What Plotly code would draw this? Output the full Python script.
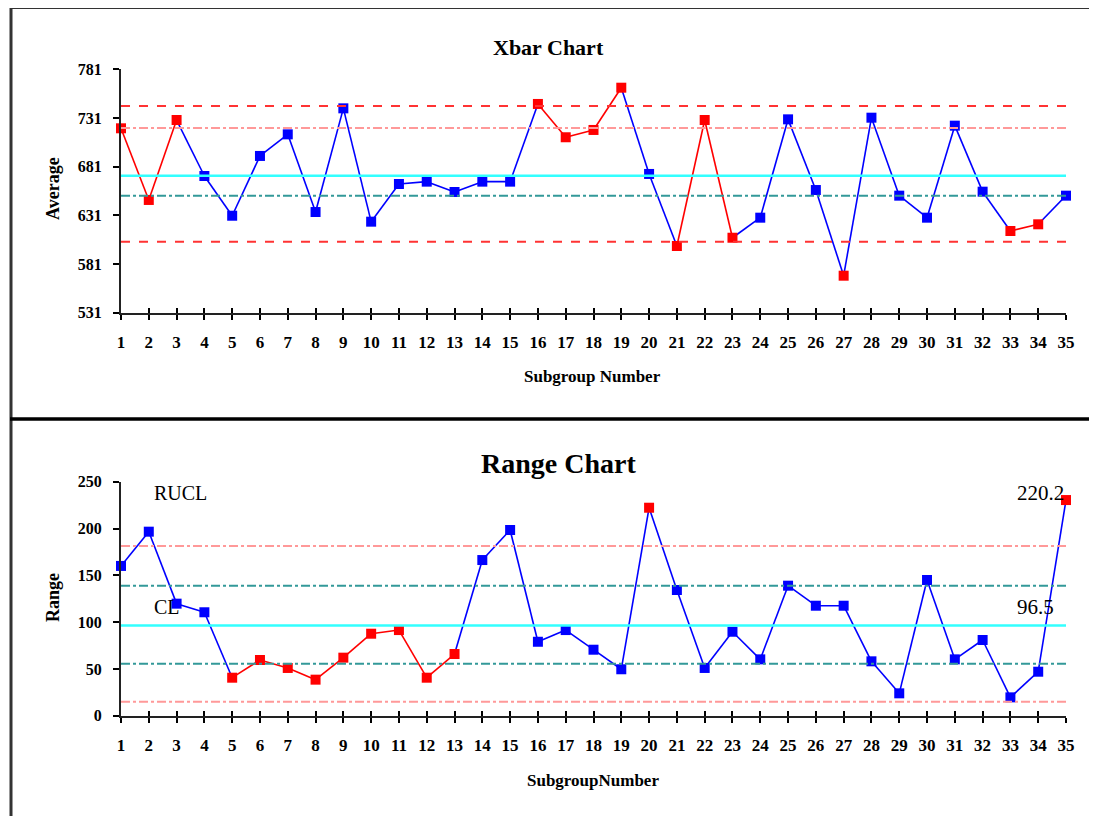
import plotly.graph_objects as go

# ---------------- data ----------------
subgroups = list(range(1, 36))

xbar_values = [720.4, 646.8, 728.9, 671.4, 630.6, 692.0, 714.2, 634.4, 740.9, 624.5,
               663.2, 665.6, 655.0, 665.6, 665.6, 745.4, 711.2, 718.7, 762.1, 673.5,
               599.5, 728.9, 608.0, 628.6, 729.6, 657.0, 569.0, 731.3, 651.2, 628.6,
               723.1, 655.3, 614.9, 621.8, 651.2]
xbar_flags = [1, 1, 1, 0, 0, 0, 0, 0, 0, 0,
              0, 0, 0, 0, 0, 1, 1, 1, 1, 0,
              1, 1, 1, 0, 0, 0, 1, 0, 0, 0,
              0, 0, 1, 1, 0]

range_values = [160.0, 196.6, 119.7, 110.5, 40.6, 59.5, 51.0, 38.5, 62.0, 87.6,
                91.5, 40.6, 65.9, 166.3, 198.4, 79.0, 91.5, 70.5, 49.6, 222.2,
                134.3, 51.0, 89.7, 60.2, 138.9, 117.5, 117.5, 58.1, 23.9, 145.0,
                60.2, 80.9, 19.6, 47.0, 230.4]
range_flags = [0, 0, 0, 0, 1, 1, 1, 1, 1, 1,
               1, 1, 1, 0, 0, 0, 0, 0, 0, 1,
               0, 0, 0, 0, 0, 0, 0, 0, 0, 0,
               0, 0, 0, 0, 1]

xbar_ticks = [531, 581, 631, 681, 731, 781]
range_ticks = [0, 50, 100, 150, 200, 250]

# control / zone lines
xbar_ucl, xbar_zone_hi, xbar_cl, xbar_zone_lo, xbar_lcl = 743.3, 720.7, 671.7, 651.2, 603.9
r_ucl, r_zone_hi, r_cl, r_zone_lo, r_lcl = 181.3, 138.9, 96.5, 55.6, 15.0
r_ucl_label, r_cl_label = "220.2", "96.5"

# ---------------- layout helpers ----------------
W, H = 1097, 816
OFF = 8  # page body margin compensation
def px(x):
    return (x - OFF) / W
def py(y):
    return 1 - (y - OFF) / H

BLUE = "#0000ff"
RED = "#ff0000"
SERIF = "Liberation Serif"

fig = go.Figure()

def segments(x, y, flags, want_red):
    xs, ys = [], []
    for i in range(len(x) - 1):
        red = bool(flags[i] and flags[i + 1])
        if red == want_red:
            xs += [x[i], x[i + 1], None]
            ys += [y[i], y[i + 1], None]
    return xs, ys

def add_limit(xa, ya, val, color, dash, width):
    fig.add_trace(go.Scatter(x=[subgroups[0], subgroups[-1]], y=[val, val], mode="lines",
                             line=dict(color=color, dash=dash, width=width),
                             xaxis=xa, yaxis=ya, hoverinfo="skip", cliponaxis=False))

def add_panel(xa, ya, vals, flags):
    for want_red, col in [(False, BLUE), (True, RED)]:
        sx, sy = segments(subgroups, vals, flags, want_red)
        fig.add_trace(go.Scatter(x=sx, y=sy, mode="lines", line=dict(color=col, width=1.6),
                                 xaxis=xa, yaxis=ya, cliponaxis=False, hoverinfo="skip"))
    cols = [RED if f else BLUE for f in flags]
    fig.add_trace(go.Scatter(x=subgroups, y=vals, mode="markers",
                             marker=dict(symbol="square", size=10, color=cols, line=dict(width=0)),
                             xaxis=xa, yaxis=ya, cliponaxis=False))

# top panel limits (on overlay axis x3)
add_limit("x3", "y", xbar_ucl, "#ff3333", "dash", 2)
add_limit("x3", "y", xbar_zone_hi, "#ff9999", "dashdot", 2)
add_limit("x3", "y", xbar_cl, "#33ffff", "solid", 2.5)
add_limit("x3", "y", xbar_zone_lo, "#339999", "dashdot", 2)
add_limit("x3", "y", xbar_lcl, "#ff3333", "dash", 2)
add_panel("x", "y", xbar_values, xbar_flags)

# bottom panel limits (on overlay axis x4)
add_limit("x4", "y2", r_ucl, "#ff9999", "dashdot", 2)
add_limit("x4", "y2", r_zone_hi, "#339999", "dashdot", 2)
add_limit("x4", "y2", r_cl, "#33ffff", "solid", 2.5)
add_limit("x4", "y2", r_zone_lo, "#339999", "dashdot", 2)
add_limit("x4", "y2", r_lcl, "#ff9999", "dashdot", 2)
add_panel("x2", "y2", range_values, range_flags)

xdom = [px(121), px(1066)]
tickfont_x = dict(family=SERIF, size=17, color="black", weight="bold")
tickfont_y = dict(family=SERIF, size=16, color="black", weight="bold")

common_x = dict(domain=xdom, range=[1, 35], tickmode="array", tickvals=subgroups,
                ticktext=[str(s) for s in subgroups], showgrid=False, zeroline=False,
                tickcolor="black", tickwidth=1.5, automargin=False)
xa_main = dict(common_x, showline=True, linecolor="#222", linewidth=2, ticks="outside",
               ticklen=5, tickfont=tickfont_x, ticklabelstandoff=8)
xa_over = dict(common_x, showline=False, ticks="inside", ticklen=5, showticklabels=False)

common_y = dict(showgrid=False, zeroline=False, showline=True, linecolor="#222", linewidth=2,
                ticks="outside", ticklen=6, tickcolor="black", tickwidth=1.5, automargin=False,
                tickfont=tickfont_y, ticklabelstandoff=8, tickmode="array")

fig.update_layout(
    template="none",
    width=W, height=H, margin=dict(l=0, r=0, t=0, b=0, pad=0, autoexpand=False),
    paper_bgcolor="white", plot_bgcolor="white", showlegend=False,
    xaxis=dict(xa_main, anchor="y"),
    xaxis3=dict(xa_over, anchor="y", overlaying="x", side="bottom"),
    xaxis2=dict(xa_main, anchor="y2"),
    xaxis4=dict(xa_over, anchor="y2", overlaying="x2", side="bottom"),
    yaxis=dict(common_y, domain=[py(312.7), py(69.3)], range=[xbar_ticks[0], xbar_ticks[-1]],
               tickvals=xbar_ticks, anchor="x"),
    yaxis2=dict(common_y, domain=[py(715.7), py(481.7)], range=[range_ticks[0], range_ticks[-1]],
                tickvals=range_ticks, anchor="x2"),
)

def ann(text, x, y, size, bold=True, xanchor="center", angle=0):
    fig.add_annotation(text=text, x=px(x), y=py(y), xref="paper", yref="paper",
                       showarrow=False, xanchor=xanchor, yanchor="middle", textangle=angle,
                       font=dict(family=SERIF, size=size, color="black",
                                 weight="bold" if bold else "normal"))

ann("Xbar Chart", 548, 47, 22)
ann("Average", 53, 189, 18, angle=-90)
ann("Subgroup Number", 592, 377, 17)
ann("Range Chart", 558, 463, 28)
ann("Range", 53, 598, 18, angle=-90)
ann("SubgroupNumber", 593, 780, 17)
ann("RUCL", 152, 493, 20, bold=False, xanchor="left")
ann("CL", 152, 607, 20, bold=False, xanchor="left")
ann(r_ucl_label, 1066, 493, 21, bold=False, xanchor="right")
ann(r_cl_label, 1015, 607, 21, bold=False, xanchor="left")

# frame lines
fig.add_shape(type="line", xref="paper", yref="paper", x0=px(10), x1=1.05, y0=py(7.5), y1=py(7.5),
              line=dict(color="#333", width=3))
fig.add_shape(type="line", xref="paper", yref="paper", x0=px(11), x1=px(11), y0=py(6), y1=-0.05,
              line=dict(color="#333", width=3))
fig.add_shape(type="line", xref="paper", yref="paper", x0=px(10), x1=1.05, y0=py(419), y1=py(419),
              line=dict(color="black", width=3.5))

fig.write_html("out.html")
